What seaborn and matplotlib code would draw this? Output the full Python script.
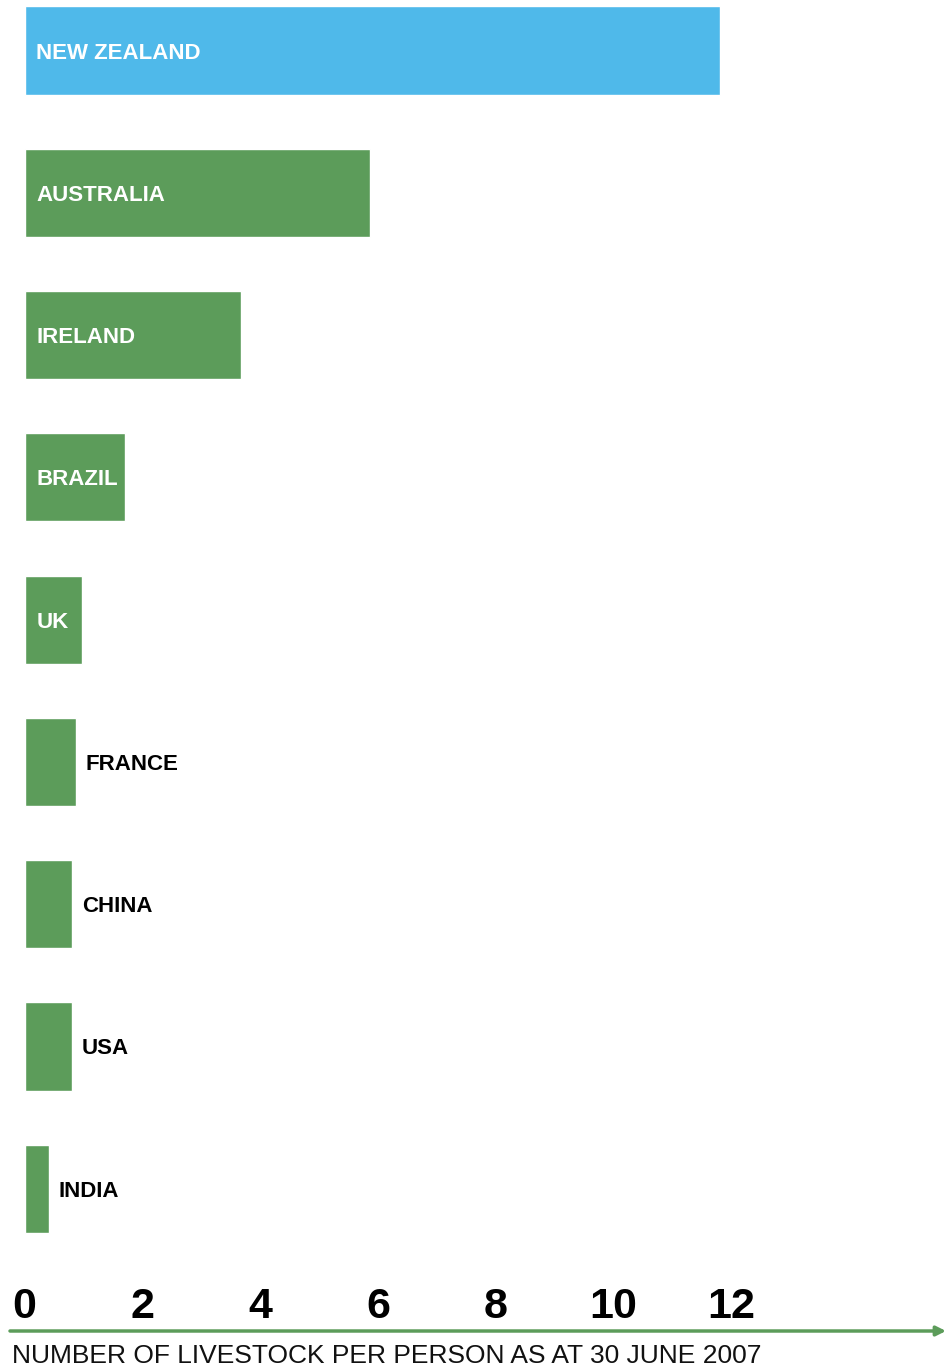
import matplotlib
matplotlib.use("Agg")
import matplotlib.pyplot as plt
import seaborn as sns
import pandas as pd

countries = ["NEW ZEALAND", "AUSTRALIA", "IRELAND", "BRAZIL", "UK",
             "FRANCE", "CHINA", "USA", "INDIA"]
livestock_per_person = [11.8, 5.86, 3.68, 1.70, 0.97, 0.87, 0.80, 0.80, 0.41]
label_inside = [True, True, True, True, True, False, False, False, False]
tick_values = [0, 2, 4, 6, 8, 10, 12]
x_label = "NUMBER OF LIVESTOCK PER PERSON AS AT 30 JUNE 2007"

BLUE = "#4FB9EA"
GREEN = "#5C9C5A"

sns.set_theme(style="white")
plt.rcParams["font.family"] = ["Liberation Sans", "DejaVu Sans"]

df = pd.DataFrame({"country": countries, "value": livestock_per_person})
palette = {c: (BLUE if i == 0 else GREEN) for i, c in enumerate(countries)}

W, H = 946, 1368
fig = plt.figure(figsize=(W / 100, H / 100), dpi=100)
left_px, bottom_px = 24.5, 1331
ax = fig.add_axes([left_px / W, (H - bottom_px) / H, 1 - left_px / W, bottom_px / H])

sns.barplot(data=df, y="country", x="value", hue="country", palette=palette,
            order=countries, orient="h", width=0.62, saturation=1,
            legend=False, ax=ax)

px_per_unit = 58.9
ax.set_xlim(0, (W - left_px) / px_per_unit)
ax.set_ylim(9.0, -0.355)

for i, (c, v, inside) in enumerate(zip(countries, livestock_per_person, label_inside)):
    if inside:
        ax.text(0.2, i, c, color="white", fontsize=16, fontweight="bold",
                va="center_baseline", ha="left")
    else:
        ax.text(v + 0.17, i, c, color="black", fontsize=16, fontweight="bold",
                va="center_baseline", ha="left")

for s in ax.spines.values():
    s.set_visible(False)
ax.set_yticks([])
ax.set_ylabel("")
ax.set_xticks(tick_values)
ax.set_xticklabels([str(t) for t in tick_values])
ax.tick_params(axis="x", length=0, pad=-31.7, labelsize=31, labelcolor="black")
for lbl in ax.get_xticklabels():
    lbl.set_fontweight("bold")

ax.set_xlabel(x_label, loc="left", fontsize=19, color="#111111")
ax.xaxis.set_label_coords((12 - left_px) / (W - left_px), -13 / bottom_px)
ax.xaxis.label.set_va("top")

ax.annotate("", xy=(1.0, 0), xytext=((10 - left_px) / (W - left_px), 0),
            xycoords="axes fraction", textcoords="axes fraction",
            arrowprops=dict(arrowstyle="-|>", color=GREEN, lw=2.5,
                            mutation_scale=14, shrinkA=0, shrinkB=0),
            annotation_clip=False)

fig.savefig("out.png", dpi=100)
